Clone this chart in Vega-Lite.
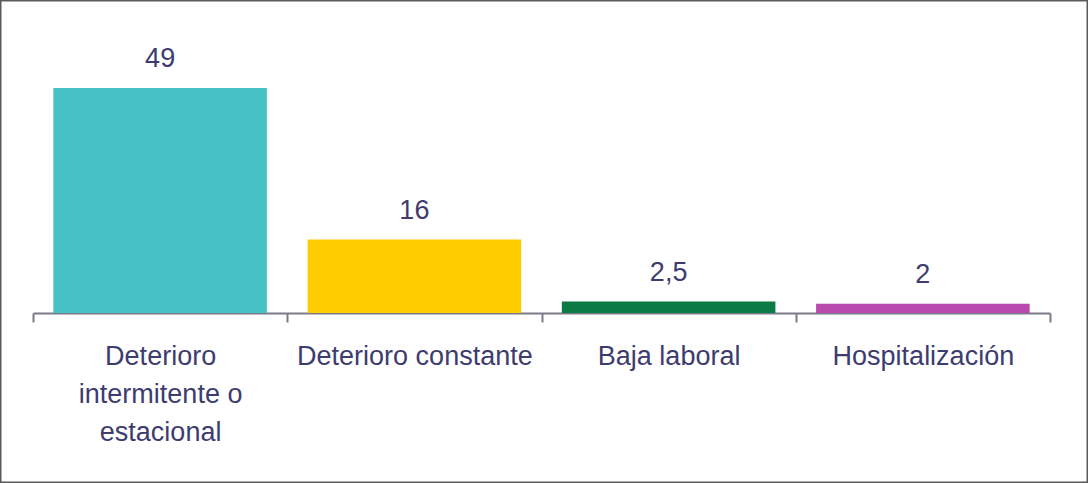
{
  "$schema": "https://vega.github.io/schema/vega-lite/v6.json",
  "width": 1088,
  "height": 483,
  "autosize": {"type": "none"},
  "padding": 0,
  "background": "#ffffff",
  "config": {
    "view": {"stroke": "#5a5a5a", "strokeWidth": 3},
    "font": "Liberation Sans"
  },
  "data": {
    "values": [
      {"categoria": "Deterioro intermitente o estacional", "valor": 49, "etiqueta": "49"},
      {"categoria": "Deterioro constante", "valor": 16, "etiqueta": "16"},
      {"categoria": "Baja laboral", "valor": 2.5, "etiqueta": "2,5"},
      {"categoria": "Hospitalización", "valor": 2, "etiqueta": "2"}
    ]
  },
  "encoding": {
    "x": {
      "field": "categoria",
      "type": "nominal",
      "sort": null,
      "scale": {"range": [33, 1050], "paddingInner": 0, "paddingOuter": 0},
      "axis": {
        "title": null,
        "offset": -170,
        "labelAngle": 0,
        "domainColor": "#7a7a8a",
        "domainWidth": 2,
        "tickColor": "#7a7a8a",
        "tickWidth": 2,
        "tickSize": 9,
        "tickBand": "extent",
        "labelColor": "#3e3c6e",
        "labelFontSize": 27,
        "labelPadding": 21,
        "labelLineHeight": 38,
        "labelBaseline": "top",
        "labelLimit": 400,
        "labelExpr": "datum.label == 'Deterioro intermitente o estacional' ? ['Deterioro', 'intermitente o', 'estacional'] : datum.label"
      }
    },
    "y": {
      "field": "valor",
      "type": "quantitative",
      "scale": {"domain": [0, 49], "range": [313, 88], "nice": false, "zero": true},
      "axis": null
    }
  },
  "layer": [
    {
      "mark": {"type": "bar", "width": {"band": 0.84}},
      "encoding": {
        "color": {
          "field": "categoria",
          "type": "nominal",
          "sort": null,
          "scale": {
            "domain": ["Deterioro intermitente o estacional", "Deterioro constante", "Baja laboral", "Hospitalización"],
            "range": ["#47c2c4", "#ffcc00", "#0b7a45", "#b94aae"]
          },
          "legend": null
        }
      }
    },
    {
      "mark": {"type": "text", "baseline": "alphabetic", "dy": -21, "fontSize": 27, "color": "#3e3c6e"},
      "encoding": {
        "text": {"field": "etiqueta", "type": "nominal"}
      }
    }
  ]
}
